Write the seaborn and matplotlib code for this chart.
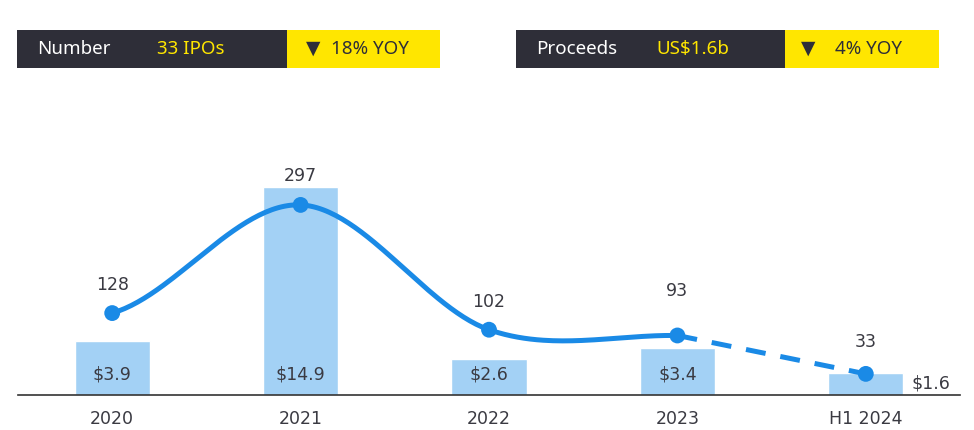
import numpy as np
import pandas as pd
import matplotlib
matplotlib.use("Agg")
import matplotlib.pyplot as plt
from matplotlib.patches import Rectangle
import seaborn as sns

# ---- data ----
periods = ["2020", "2021", "2022", "2023", "H1 2024"]
proceeds = [3.9, 14.9, 2.6, 3.4, 1.6]          # US$ billions
ipo_counts = [128, 297, 102, 93, 33]            # number of IPOs
bar_labels = ["$3.9", "$14.9", "$2.6", "$3.4", "$1.6"]
count_label_offsets = [20, 21, 20, 32, 23]      # points above each marker

header_left = ("Number", "33 IPOs", "\u25BC", "18% YOY")
header_right = ("Proceeds", "US$1.6b", "\u25BC", "4% YOY")

BAR_C = "#a3d1f5"
LINE_C = "#1a8ae6"
DARK = "#2e2e38"
YELLOW = "#ffe600"
TEXT_C = "#3a3a42"

sns.set_theme(style="white")
plt.rcParams["font.family"] = ["DejaVu Sans"]

W, H = 974, 430
fig = plt.figure(figsize=(W / 100, H / 100), dpi=100)

ax_left, ax_right, ax_bottom, ax_top = 18, 960, 395, 100
ax = fig.add_axes([ax_left / W, (H - ax_bottom) / H,
                   (ax_right - ax_left) / W, (ax_bottom - ax_top) / H])

df = pd.DataFrame({"period": periods, "proceeds": proceeds, "ipos": ipo_counts})
sns.barplot(data=df, x="period", y="proceeds", color=BAR_C, width=0.40,
            saturation=1, ax=ax, zorder=1)
ax.set_xlim(-0.5, 4.5)
px_per_bn = 13.96
ax.set_ylim(0, (ax_bottom - ax_top) / px_per_bn)

for i, (v, lab) in enumerate(zip(proceeds, bar_labels)):
    if i < len(proceeds) - 1:
        ax.text(i, 1.45, lab, ha="center", va="center", fontsize=12.5, color=TEXT_C, zorder=5)
    else:
        ax.text(i + 0.245, 0.85, lab, ha="left", va="center", fontsize=12.5, color=TEXT_C, zorder=5)

# ---- line for number of IPOs on a twin axis ----
ax2 = ax.twinx()
px_per_ipo = 0.64
ax2.set_ylim(0, (ax_bottom - ax_top) / px_per_ipo)
ax2.set_xlim(-0.5, 4.5)


def smooth_curve(xs, ys, n=60):
    """Catmull-Rom style smoothing through the given points."""
    xs = np.asarray(xs, float)
    ys = np.asarray(ys, float)
    k = len(xs)
    out_x, out_y = [], []
    for i in range(k - 1):
        m0 = (ys[i + 1] - ys[i - 1]) / 2 if i > 0 else (ys[i + 1] - ys[i]) / 2
        m1 = (ys[i + 2] - ys[i]) / 2 if i + 2 < k else (ys[i + 1] - ys[i]) / 2
        t = np.linspace(0, 1, n)
        h00 = 2 * t**3 - 3 * t**2 + 1
        h10 = t**3 - 2 * t**2 + t
        h01 = -2 * t**3 + 3 * t**2
        h11 = t**3 - t**2
        out_y.append(h00 * ys[i] + h10 * m0 + h01 * ys[i + 1] + h11 * m1)
        out_x.append(xs[i] + t * (xs[i + 1] - xs[i]))
    return np.concatenate(out_x), np.concatenate(out_y)


pos = np.arange(len(periods))
sx, sy = smooth_curve(pos[:4], ipo_counts[:4])
sns.lineplot(x=sx, y=sy, ax=ax2, color=LINE_C, lw=3.6, sort=False, zorder=3)
sns.lineplot(x=pos[3:], y=ipo_counts[3:], ax=ax2, color=LINE_C, lw=3.6, zorder=3)
ax2.lines[-1].set_dashes([4, 3])
sns.scatterplot(x=pos, y=ipo_counts, ax=ax2, color=LINE_C, s=130,
                edgecolor="none", zorder=4)

for i, (v, off) in enumerate(zip(ipo_counts, count_label_offsets)):
    ax2.annotate(str(v), (i, v), xytext=(0, off), textcoords="offset points",
                 ha="center", va="center", fontsize=12.5, color=TEXT_C)

for a in (ax, ax2):
    a.set_yticks([])
    a.set_ylabel("")
    a.set_xlabel("")
    for s in ("top", "left", "right"):
        a.spines[s].set_visible(False)
ax2.spines["bottom"].set_visible(False)
ax.spines["bottom"].set_color("#333333")
ax.spines["bottom"].set_linewidth(1.2)
ax.set_xticks(pos)
ax.set_xticklabels(periods, fontsize=12.5, color=TEXT_C)
ax.tick_params(axis="x", length=0, pad=11)
ax2.tick_params(axis="x", length=0, labelbottom=False)

# ---- header strips ----
hx = fig.add_axes([0, 0, 1, 1], zorder=10)
hx.set_xlim(0, W)
hx.set_ylim(H, 0)
hx.axis("off")
hx.patch.set_alpha(0)

top, bot = 30, 68
hx.add_patch(Rectangle((17, top), 270, bot - top, color=DARK, lw=0))
hx.add_patch(Rectangle((287, top), 153, bot - top, color=YELLOW, lw=0))
hx.add_patch(Rectangle((516, top), 269, bot - top, color=DARK, lw=0))
hx.add_patch(Rectangle((785, top), 154, bot - top, color=YELLOW, lw=0))

hfont = dict(fontsize=13.5, va="center", family=["Noto Sans", "DejaVu Sans"])
cy = 49
hx.text(37, cy, header_left[0], color="white", **hfont)
hx.text(157, cy, header_left[1], color=YELLOW, **hfont)
hx.text(306, cy, header_left[2], color=DARK, **hfont)
hx.text(331, cy, header_left[3], color=DARK, **hfont)
hx.text(536, cy, header_right[0], color="white", **hfont)
hx.text(656, cy, header_right[1], color=YELLOW, **hfont)
hx.text(801, cy, header_right[2], color=DARK, **hfont)
hx.text(835, cy, header_right[3], color=DARK, **hfont)

fig.savefig("out.png", dpi=100)
